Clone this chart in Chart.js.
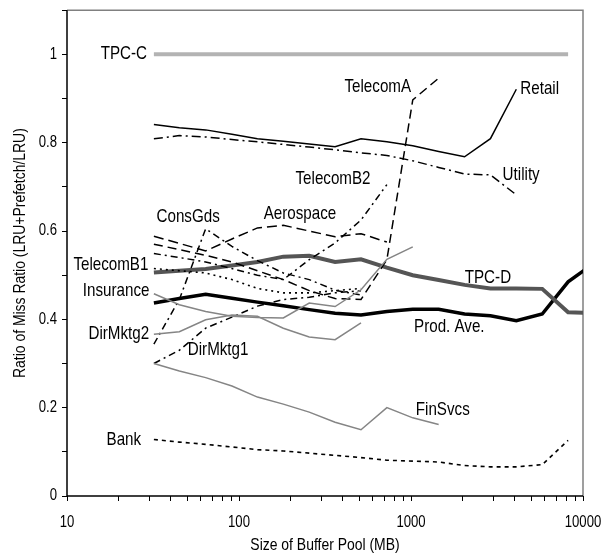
<!DOCTYPE html>
<html>
<head>
<meta charset="utf-8">
<script src="https://cdn.jsdelivr.net/npm/chart.js@4.4.1/dist/chart.umd.min.js"></script>
<style>
  html, body { margin: 0; padding: 0; background: #fff; }
  #wrap { position: relative; width: 605px; height: 556px; }
</style>
</head>
<body>
<div id="wrap"><canvas id="c" width="605" height="556"></canvas></div>
<script>
// Buffer pool sizes (MB), doubling every two steps
const bufferSizes = [32, 45, 64, 91, 128, 181, 256, 362, 512, 724, 1024, 1448, 2048, 2896, 4096, 5793, 8192, 11585];

// Ratio of miss ratio (LRU+Prefetch / LRU) per workload
const tpcC      = [1, 1, 1, 1, 1, 1, 1, 1, 1, 1, 1, 1, 1, 1, 1, 1, 1];
const retail    = [0.841, 0.834, 0.829, 0.819, 0.809, 0.803, 0.797, 0.791, 0.809, 0.802, 0.793, 0.780, 0.768, 0.809, 0.921];
const utility   = [0.809, 0.816, 0.813, 0.807, 0.802, 0.796, 0.790, 0.784, 0.777, 0.771, 0.759, 0.744, 0.729, 0.727, 0.682];
const telecomA  = [0.570, 0.558, 0.545, 0.530, 0.510, 0.490, 0.465, 0.447, 0.445, 0.535, 0.897, 0.946];
const telecomB2 = [0.549, 0.540, 0.530, 0.515, 0.500, 0.490, 0.535, 0.573, 0.625, 0.705];
const aerospace = [0.588, 0.572, 0.555, 0.582, 0.607, 0.613, 0.600, 0.587, 0.594, 0.575];
const consGds   = [0.344, 0.445, 0.605, 0.565, 0.533, 0.505, 0.490, 0.466, 0.455];
const telecomB1 = [0.515, 0.510, 0.505, 0.490, 0.470, 0.460, 0.460, 0.465, 0.470];
const dirMktg1  = [0.300, 0.330, 0.380, 0.405, 0.430, 0.445, 0.450, 0.460, 0.465];
const insurance = [0.458, 0.433, 0.418, 0.407, 0.404, 0.403, 0.437, 0.429, 0.467, 0.536, 0.564];
const dirMktg2  = [0.366, 0.372, 0.399, 0.410, 0.407, 0.380, 0.360, 0.354, 0.392];
const finSvcs   = [0.300, 0.283, 0.268, 0.249, 0.224, 0.208, 0.190, 0.167, 0.150, 0.200, 0.177, 0.162];
const bank      = [0.128, 0.122, 0.117, 0.111, 0.105, 0.102, 0.097, 0.092, 0.087, 0.081, 0.079, 0.077, 0.069, 0.066, 0.066, 0.071, 0.126];
const tpcD      = [0.506, 0.510, 0.514, 0.522, 0.530, 0.542, 0.544, 0.530, 0.536, 0.517, 0.500, 0.489, 0.478, 0.470, 0.470, 0.469, 0.416, 0.414];
const prodAve   = [0.437, 0.447, 0.457, 0.448, 0.439, 0.431, 0.422, 0.414, 0.410, 0.418, 0.423, 0.423, 0.412, 0.408, 0.397, 0.412, 0.485, 0.527];

const xTickLabels = [10, 100, 1000, 10000];
const yTickLabels = [0, 0.2, 0.4, 0.6, 0.8, 1];
const xTitle = 'Size of Buffer Pool (MB)';
const yTitle = 'Ratio of Miss Ratio (LRU+Prefetch/LRU)';

// Series label text and its centre (data coordinates)
const seriesLabels = [
  { text: 'TPC-C',      x: 21.4, y: 1.0   },
  { text: 'TelecomA',   x: 641,  y: 0.926 },
  { text: 'Retail',     x: 5600, y: 0.921 },
  { text: 'Utility',    x: 4370, y: 0.726 },
  { text: 'TelecomB2',  x: 352,  y: 0.719 },
  { text: 'ConsGds',    x: 50.6, y: 0.631 },
  { text: 'Aerospace',  x: 226,  y: 0.638 },
  { text: 'TelecomB1',  x: 18.0, y: 0.524 },
  { text: 'Insurance',  x: 19.3, y: 0.465 },
  { text: 'TPC-D',      x: 2800, y: 0.494 },
  { text: 'Prod. Ave.', x: 1670, y: 0.384 },
  { text: 'DirMktg2',   x: 20.0, y: 0.366 },
  { text: 'DirMktg1',   x: 75.6, y: 0.330 },
  { text: 'FinSvcs',    x: 1530, y: 0.196 },
  { text: 'Bank',       x: 21.4, y: 0.128 }
];

const FONT = '"Liberation Sans", Arial, sans-serif';
const NARROW = 0.82;   // horizontal squeeze giving a condensed face

function pts(values) {
  return values.map((v, i) => ({ x: bufferSizes[i], y: v }));
}

function line(data, color, width, dash) {
  return {
    data: pts(data),
    borderColor: color,
    borderWidth: width,
    borderDash: dash || [],
    pointRadius: 0,
    tension: 0,
    fill: false
  };
}

const datasets = [
  line(tpcC, '#b3b3b3', 4),
  line(bank, '#000', 1.6, [4, 4]),
  line(finSvcs, '#858585', 1.5),
  line(dirMktg2, '#858585', 1.5),
  line(insurance, '#858585', 1.5),
  line(dirMktg1, '#000', 1.5, [7, 4, 2, 4]),
  line(consGds, '#000', 1.5, [7, 4, 2, 4]),
  line(telecomB1, '#000', 1.6, [2, 4]),
  line(aerospace, '#000', 1.5, [10, 5]),
  line(telecomB2, '#000', 1.5, [7, 4, 2, 4]),
  line(telecomA, '#000', 1.5, [9, 5]),
  line(utility, '#000', 1.5, [9, 4, 2, 4]),
  line(retail, '#000', 1.5),
  line(tpcD, '#555', 4),
  line(prodAve, '#000', 3.5)
];

function narrowText(ctx, text, x, y, size, align, angle) {
  ctx.save();
  ctx.font = size + 'px ' + FONT;
  ctx.fillStyle = '#000';
  ctx.textAlign = align;
  ctx.textBaseline = 'middle';
  ctx.translate(x, y);
  if (angle) ctx.rotate(angle);
  ctx.scale(NARROW, 1);
  ctx.fillText(text, 0, 0);
  ctx.restore();
}

// Series names beside their lines
const labelPlugin = {
  id: 'seriesLabels',
  afterDatasetsDraw(chart) {
    const { ctx, scales: { x, y } } = chart;
    seriesLabels.forEach(l => {
      narrowText(ctx, l.text, x.getPixelForValue(l.x), y.getPixelForValue(l.y), 18.5, 'center');
    });
  }
};

// Axis frame, tick labels and axis titles in the condensed face
const axisPlugin = {
  id: 'axisText',
  beforeDatasetsDraw(chart) {
    const { ctx, chartArea: a } = chart;
    ctx.save();
    ctx.strokeStyle = '#808080';
    ctx.lineWidth = 1.5;
    ctx.beginPath();
    ctx.moveTo(a.left, a.top);
    ctx.lineTo(a.right, a.top);
    ctx.lineTo(a.right, a.bottom);
    ctx.stroke();
    ctx.restore();
  },
  afterDraw(chart) {
    const { ctx, chartArea: a, scales: { x, y } } = chart;
    ctx.save();
    ctx.strokeStyle = '#000';
    ctx.lineWidth = 1.5;
    ctx.beginPath();
    ctx.moveTo(a.left, a.top);
    ctx.lineTo(a.left, a.bottom);
    ctx.lineTo(a.right, a.bottom);
    ctx.stroke();
    ctx.restore();
    yTickLabels.forEach(v => {
      narrowText(ctx, String(v), a.left - 10, y.getPixelForValue(v), 16, 'right');
    });
    xTickLabels.forEach(v => {
      narrowText(ctx, String(v), x.getPixelForValue(v), a.bottom + 27, 16, 'center');
    });
    narrowText(ctx, xTitle, (a.left + a.right) / 2, a.bottom + 49, 17, 'center');
    narrowText(ctx, yTitle, 20, (a.top + a.bottom) / 2, 17, 'center', -Math.PI / 2);
  }
};

new Chart(document.getElementById('c'), {
  type: 'line',
  data: { datasets },
  options: {
    responsive: false,
    animation: false,
    layout: { padding: { top: 7, right: 22, left: 0, bottom: 0 } },
    plugins: { legend: { display: false }, tooltip: { enabled: false } },
    scales: {
      x: {
        type: 'logarithmic',
        min: 10,
        max: 10000,
        border: { display: false },
        grid: { drawOnChartArea: false, drawTicks: true, tickLength: 5, color: '#000', lineWidth: 1 },
        ticks: { autoSkip: false, maxRotation: 0, callback: () => '' },
        afterBuildTicks(axis) {
          const t = [];
          for (let d = 10; d < 10000; d *= 10) {
            for (let m = 1; m < 10; m++) t.push({ value: d * m });
          }
          t.push({ value: 10000 });
          axis.ticks = t;
        },
        afterFit(axis) { axis.height = 60; }
      },
      y: {
        min: 0,
        max: 1.1,
        border: { display: false },
        grid: { drawOnChartArea: false, drawTicks: true, tickLength: 5, color: '#000', lineWidth: 1 },
        ticks: { stepSize: 0.1, callback: () => '' },
        afterFit(axis) { axis.width = 67; }
      }
    }
  },
  plugins: [labelPlugin, axisPlugin]
});
</script>
</body>
</html>
